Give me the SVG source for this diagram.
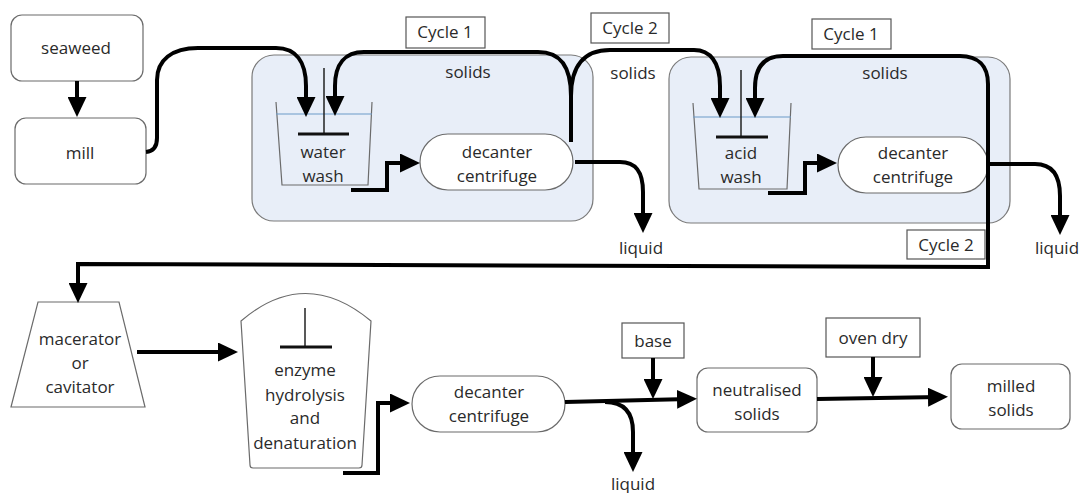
<svg xmlns="http://www.w3.org/2000/svg" width="1080" height="493" viewBox="0 0 1080 493">
  <style>
    .box { fill: #ffffff; stroke: #6b6b6b; stroke-width: 1.2; }
    .panel { fill: #e8eef8; stroke: #7a7a7a; stroke-width: 1.2; }
    .label { fill: #ffffff; stroke: #555555; stroke-width: 1.2; }
    .wall { fill: none; stroke: #6b6b6b; stroke-width: 1.2; }
    .water { fill: none; stroke: #6a9ac8; stroke-width: 1.2; }
    .shaft { fill: none; stroke: #222222; stroke-width: 1.5; }
    .blade { fill: none; stroke: #111111; stroke-width: 3; }
    .flow { fill: none; stroke: #000000; stroke-width: 4; }
    .head { fill: none; stroke: #000000; stroke-width: 4; marker-end: url(#arrow); }
    text { font-family: "Open Sans", "Noto Sans", sans-serif; font-size: 17px; fill: #2a2a2a; text-anchor: middle; }
  </style>
  <defs>
    <marker id="arrow" viewBox="0 0 20 19" refX="12" refY="9.5" markerWidth="20" markerHeight="19" markerUnits="userSpaceOnUse" orient="auto">
      <path d="M0,0 L20,9.5 L0,19 Z" fill="#000000"/>
    </marker>
  </defs>

  <!-- wash stage panels -->
  <g id="panel-water-wash">
    <rect class="panel" x="252" y="55" width="341" height="166" rx="22"/>
    <text x="468" y="78">solids</text>
  </g>
  <g id="panel-acid-wash">
    <rect class="panel" x="669" y="57" width="341" height="166" rx="22"/>
    <text x="885" y="79">solids</text>
  </g>

  <g id="seaweed">
    <rect class="box" x="11" y="15" width="132" height="66" rx="11"/>
    <text x="76" y="54">seaweed</text>
  </g>
  <g id="mill">
    <rect class="box" x="15" y="118" width="131" height="66" rx="11"/>
    <text x="80" y="159">mill</text>
  </g>

  <g id="water-wash">
    <path class="wall" d="M276,102 L282,185 L368,185 L372,102"/>
    <line class="water" x1="276" y1="114" x2="372" y2="114"/>
    <line class="shaft" x1="324" y1="68" x2="324" y2="134"/>
    <line class="blade" x1="298" y1="134" x2="349" y2="134"/>
    <text x="323" y="158">water</text>
    <text x="323" y="182">wash</text>
  </g>
  <g id="decanter-1">
    <rect class="box" x="420" y="134" width="153" height="56" rx="28"/>
    <text x="497" y="158">decanter</text>
    <text x="497" y="182">centrifuge</text>
  </g>

  <g id="acid-wash">
    <path class="wall" d="M693,103 L699,189 L787,189 L791,103"/>
    <line class="water" x1="693" y1="117" x2="791" y2="117"/>
    <line class="shaft" x1="741" y1="70" x2="741" y2="137"/>
    <line class="blade" x1="716" y1="137" x2="768" y2="137"/>
    <text x="741" y="159">acid</text>
    <text x="741" y="183">wash</text>
  </g>
  <g id="decanter-2">
    <rect class="box" x="838" y="137" width="150" height="56" rx="28"/>
    <text x="913" y="159">decanter</text>
    <text x="913" y="183">centrifuge</text>
  </g>

  <g id="label-cycle1-a">
    <rect class="label" x="406" y="17" width="79" height="31"/>
    <text x="445" y="38">Cycle 1</text>
  </g>
  <g id="label-cycle2-a">
    <rect class="label" x="591" y="13" width="78" height="30"/>
    <text x="630" y="34">Cycle 2</text>
  </g>
  <g id="label-solids-between">
    <text x="633" y="79">solids</text>
  </g>
  <g id="label-cycle1-b">
    <rect class="label" x="812" y="19" width="79" height="30"/>
    <text x="851" y="40">Cycle 1</text>
  </g>
  <g id="label-cycle2-b">
    <rect class="label" x="907" y="230" width="78" height="29"/>
    <text x="946" y="251">Cycle 2</text>
  </g>
  <g id="liquid-1"><text x="641" y="254">liquid</text></g>
  <g id="liquid-2"><text x="1057" y="254">liquid</text></g>

  <g id="macerator">
    <path class="box" d="M38,302 L119,302 L145,407 L11,407 Z"/>
    <text x="80" y="345">macerator</text>
    <text x="80" y="369">or</text>
    <text x="80" y="393">cavitator</text>
  </g>

  <g id="enzyme-hydrolysis">
    <path class="box" d="M241,321 Q305,266 371,321 L362,465 Q362,468 359,468 L253,468 Q250,468 250,465 Z"/>
    <line class="shaft" x1="305" y1="308" x2="305" y2="347"/>
    <line class="blade" x1="280" y1="347" x2="332" y2="347"/>
    <text x="305" y="376">enzyme</text>
    <text x="305" y="401">hydrolysis</text>
    <text x="305" y="424">and</text>
    <text x="305" y="449">denaturation</text>
  </g>

  <g id="decanter-3">
    <rect class="box" x="412" y="376" width="153" height="56" rx="28"/>
    <text x="489" y="398">decanter</text>
    <text x="489" y="422">centrifuge</text>
  </g>
  <g id="liquid-3"><text x="633" y="490">liquid</text></g>

  <g id="base">
    <rect class="label" x="622" y="323" width="62" height="35"/>
    <text x="653" y="347">base</text>
  </g>
  <g id="neutralised-solids">
    <rect class="box" x="697" y="368" width="120" height="64" rx="11"/>
    <text x="757" y="396">neutralised</text>
    <text x="757" y="420">solids</text>
  </g>
  <g id="oven-dry">
    <rect class="label" x="826" y="318" width="94" height="39"/>
    <text x="873" y="344">oven dry</text>
  </g>
  <g id="milled-solids">
    <rect class="box" x="951" y="364" width="119" height="65" rx="11"/>
    <text x="1011" y="392">milled</text>
    <text x="1011" y="416">solids</text>
  </g>

  <g id="connectors">
    <path class="head" d="M77,81 V109"/>
    <path class="head" d="M146,152 Q157,151 157,138 V80 C157,60 172,48 198,48 H276 C296,48 306,62 306,86 V109"/>
    <!-- decanter 1 solids split: cycle 1 back, cycle 2 onward -->
    <path class="flow" d="M571,142 V90"/>
    <path class="head" d="M571,96 C571,66 560,52 538,52 H364 C345,52 335,64 335,86 V108"/>
    <path class="head" d="M571,96 C571,66 584,50 610,50 H694 C710,50 720,62 720,86 V110"/>
    <path class="head" d="M351,190 H387 V163 H412"/>
    <path class="head" d="M575,162 H620 C636,162 643,172 643,192 V225"/>
    <!-- decanter 2 solids: cycle 1 back, cycle 2 down to macerator -->
    <path class="head" d="M988,142 V84 C988,66 978,56 960,56 H783 C765,56 755,66 755,88 V110"/>
    <path class="head" d="M988,140 V267 L78,264 V295"/>
    <path class="head" d="M768,193 H805 V163 H829"/>
    <path class="head" d="M990,164 H1035 C1052,164 1060,175 1060,196 V227"/>
    <path class="head" d="M137,352 H230"/>
    <path class="head" d="M343,473 H378 V403 H402"/>
    <path class="head" d="M565,402 L689,399"/>
    <path class="head" d="M605,402 C624,402 633,412 633,432 V464"/>
    <path class="head" d="M653,358 V391"/>
    <path class="head" d="M817,399 L940,397"/>
    <path class="head" d="M873,357 V389"/>
  </g>
</svg>
